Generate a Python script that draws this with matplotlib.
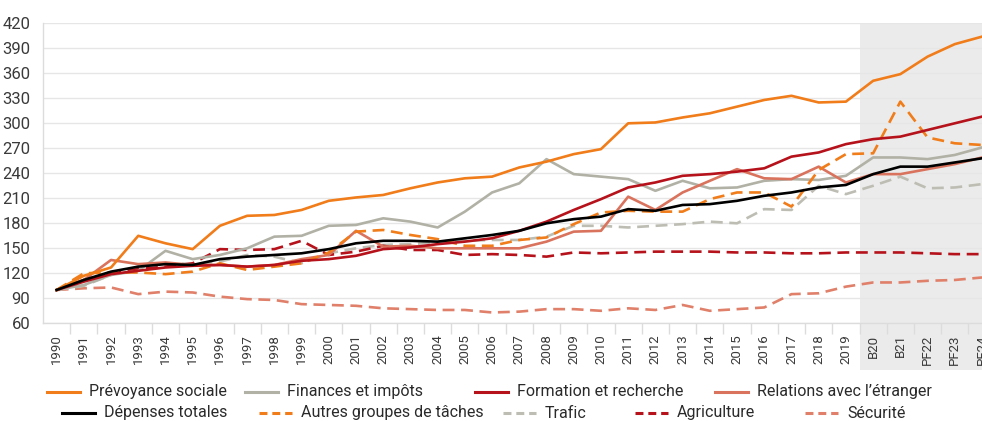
import matplotlib
matplotlib.use("Agg")
import matplotlib.pyplot as plt
from matplotlib.lines import Line2D
from matplotlib.patches import Rectangle
import matplotlib.transforms as mtransforms

plt.rcParams["font.family"] = ["Roboto", "DejaVu Sans"]

# categories: accounts 1990-2019, budgets B20/B21, financial plans PF22-PF24
years = [str(y) for y in range(1990, 2020)] + ["B20", "B21", "PF22", "PF23", "PF24"]

prevoyance = [100, 117, 127, 165, 156, 149, 177, 189, 190, 196, 207, 211, 214, 222, 229,
              234, 236, 247, 254, 263, 269, 300, 301, 307, 312, 320, 328, 333, 325, 326,
              351, 359, 380, 395, 404]
finances = [100, 106, 118, 123, 147, 137, 142, 150, 164, 165, 177, 178, 186, 182, 175,
            194, 217, 228, 257, 239, 236, 233, 219, 231, 222, 223, 231, 233, 232, 237,
            259, 259, 257, 262, 271]
formation = [100, 110, 119, 123, 127, 129, 130, 128, 130, 135, 137, 141, 149, 151, 155,
             158, 162, 171, 182, 196, 209, 223, 229, 237, 239, 242, 246, 260, 265, 275,
             281, 284, 292, 300, 308]
relations = [100, 112, 136, 131, 133, 130, 130, 128, 130, 137, 142, 171, 152, 153, 150,
             150, 150, 150, 158, 170, 171, 212, 196, 217, 231, 245, 234, 233, 248, 229,
             239, 239, 245, 251, 259]
total = [100, 112, 122, 128, 131, 130, 137, 140, 142, 144, 149, 156, 159, 159, 158,
         162, 166, 171, 180, 185, 188, 197, 195, 202, 203, 207, 213, 217, 223, 226,
         239, 248, 248, 253, 258]
autres = [100, 120, 121, 121, 119, 122, 132, 124, 128, 132, 145, 170, 172, 166, 161,
          153, 153, 160, 163, 179, 193, 195, 194, 194, 209, 217, 217, 200, 244, 263,
          264, 326, 283, 276, 274]
trafic = [100, 105, 118, 128, 132, 131, 134, 142, 140, 132, 144, 150, 154, 155, 157,
          159, 160, 160, 164, 177, 177, 175, 177, 179, 182, 180, 197, 196, 225, 215,
          225, 236, 222, 223, 227]
agriculture = [100, 112, 120, 125, 128, 132, 149, 148, 149, 159, 142, 146, 153, 148, 148,
               142, 143, 142, 140, 145, 144, 145, 146, 146, 146, 145, 145, 144, 144, 145,
               145, 145, 144, 143, 143]
securite = [100, 102, 103, 95, 98, 97, 92, 89, 88, 83, 82, 81, 78, 77, 76,
            76, 73, 74, 77, 77, 75, 78, 76, 82, 75, 77, 79, 95, 96, 104,
            109, 109, 111, 112, 115]

ORANGE = "#f07c1a"
GREY = "#b1b1a6"
RED = "#b5121b"
SALMON = "#d9735d"
DASH = (0, (4.5, 2.5))

# (label, values, colour, linestyle)
SERIES = [
    ("Prévoyance sociale", prevoyance, ORANGE, "-"),
    ("Finances et impôts", finances, GREY, "-"),
    ("Formation et recherche", formation, RED, "-"),
    ("Relations avec l\u2019étranger", relations, SALMON, "-"),
    ("Dépenses totales", total, "black", "-"),
    ("Autres groupes de tâches", autres, ORANGE, DASH),
    ("Trafic", trafic, "#bdbdb3", DASH),
    ("Agriculture", agriculture, RED, DASH),
    ("Sécurité", securite, "#e0806a", DASH),
]
# draw order: back to front
ORDER = [8, 6, 7, 1, 3, 5, 2, 0, 4]

W, H = 982, 421
fig = plt.figure(figsize=(W / 100, H / 100), dpi=100)
ax = fig.add_axes([43 / W, 1 - 323.3 / H, 1 - 43 / W, 300 / H])

x = list(range(len(years)))
for i in ORDER:
    label, vals, col, ls = SERIES[i]
    ax.plot(x, vals, color=col, linestyle=ls, linewidth=1.9, zorder=3 + ORDER.index(i))

# shaded forecast zone, also behind the tick labels
trans = mtransforms.blended_transform_factory(ax.transData, ax.transAxes)
ax.add_patch(Rectangle((29.5, -0.157), 6, 1.157, transform=trans, facecolor="#ebebeb",
                       edgecolor="none", clip_on=False, zorder=0))

ax.set_yticks(range(60, 421, 30))
ax.set_xticks(x)
ax.set_xticklabels(years, rotation=90, fontsize=9.5, color="#3a3a3a")
ax.set_xticks([i + 0.5 for i in x[:-1]], minor=True)
# limits after the ticks, so set_xticks does not widen the view
ax.set_xlim(-0.5, 34.0)
ax.set_ylim(60, 420)
ax.tick_params(axis="x", which="major", length=0, pad=8)
ax.tick_params(axis="x", which="minor", length=8, color="#dcdcdc", width=1)
ax.tick_params(axis="y", length=0, pad=9, labelsize=12, labelcolor="#3a3a3a")
ax.grid(axis="y", color="#e6e6e6", linewidth=1, zorder=1)
ax.set_axisbelow(True)
ax.patch.set_alpha(0)
for s in ["top", "right"]:
    ax.spines[s].set_visible(False)
for s in ["left", "bottom"]:
    ax.spines[s].set_color("#dcdcdc")
    ax.spines[s].set_linewidth(1)

# hand-placed legend, two rows (pixel x of handle start, row)
LEG_X = [47, 245, 475, 715, 62, 259, 503, 635, 805]
LEG_ROW = [0, 0, 0, 0, 1, 1, 1, 1, 1]
ROW_Y = [391.5, 413]
for (label, vals, col, ls), lx, row in zip(SERIES, LEG_X, LEG_ROW):
    yy = 1 - ROW_Y[row] / H
    lls = (0, (2.6, 1.6)) if ls != "-" else "-"
    fig.add_artist(Line2D([lx / W, (lx + 33) / W], [yy, yy], color=col, linestyle=lls,
                          linewidth=2.2, transform=fig.transFigure))
    fig.text((lx + 42) / W, yy, label, fontsize=11.5, color="#2a2a2a", va="center", ha="left")

fig.savefig("out.png", dpi=100)
